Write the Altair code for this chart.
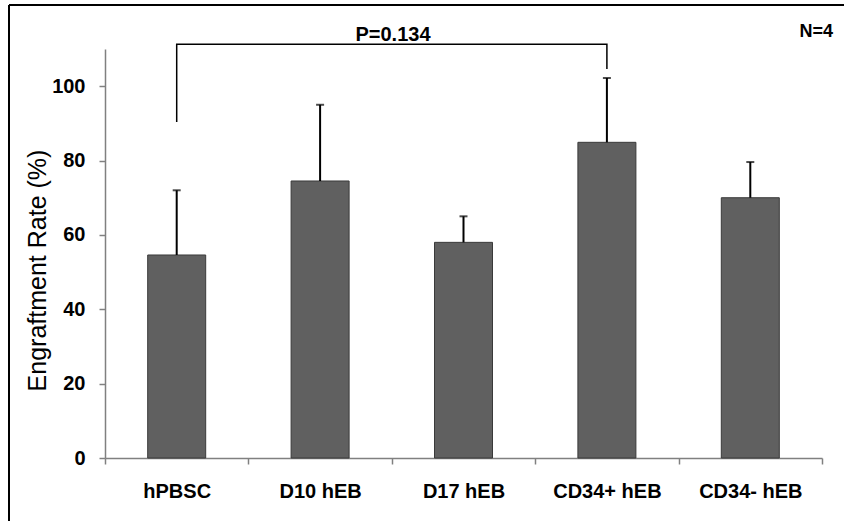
import altair as alt
import pandas as pd

categories = ["hPBSC", "D10 hEB", "D17 hEB", "CD34+ hEB", "CD34- hEB"]
means = [54.6, 74.5, 58.0, 84.9, 70.0]
errors = [17.4, 20.5, 7.0, 17.3, 9.6]

bracket_x = ["hPBSC", "hPBSC", "CD34+ hEB", "CD34+ hEB"]
bracket_y = [90.4, 111.3, 111.3, 104.6]
bracket_order = [0, 1, 2, 3]

p_text = "P=0.134"
n_text = "N=4"
y_ticks = [0, 20, 40, 60, 80, 100]

FONT = "Liberation Sans, Arial, Helvetica, sans-serif"

df = pd.DataFrame({"cat": categories, "mean": means, "err": errors})
df["upper"] = df["mean"] + df["err"]
bdf = pd.DataFrame({"cat": bracket_x, "y": bracket_y, "o": bracket_order})

xscale = alt.Scale(domain=categories, paddingInner=0, paddingOuter=0)
yscale = alt.Scale(domain=[0, 110], nice=False)

x_enc = alt.X(
    "cat:N", scale=xscale, sort=categories, title=None,
    axis=alt.Axis(
        labelAngle=0, labelFont=FONT, labelFontSize=20, labelFontWeight="bold",
        labelColor="#000000", labelPadding=17, tickSize=6, tickBand="extent",
        domainColor="#808080", tickColor="#808080", domainWidth=1.5, tickWidth=1.5,
    ),
)
y_enc = alt.Y(
    "mean:Q", scale=yscale, title="Engraftment Rate (%)",
    axis=alt.Axis(
        values=y_ticks, grid=False, labelFont=FONT, labelFontSize=20,
        labelFontWeight="bold", labelColor="#000000", labelPadding=14, tickSize=6,
        domainColor="#808080", tickColor="#808080", domainWidth=1.5, tickWidth=1.5,
        titleFont=FONT, titleFontSize=25, titleFontWeight="normal",
        titleColor="#000000", titleY=221, titleX=-55,
    ),
)

base = alt.Chart(df)
bars = base.mark_bar(size=58, color="#606060", stroke="#3a3a3a", strokeWidth=1).encode(
    x=x_enc, y=y_enc
)
err_rule = base.mark_rule(color="#000000", strokeWidth=2).encode(
    x=alt.X("cat:N", scale=xscale, sort=categories),
    y=alt.Y("mean:Q", scale=yscale),
    y2="upper:Q",
)
err_cap = base.mark_tick(color="#000000", thickness=2, size=8).encode(
    x=alt.X("cat:N", scale=xscale, sort=categories),
    y=alt.Y("upper:Q", scale=yscale),
)
bracket = alt.Chart(bdf).mark_line(color="#000000", strokeWidth=1.5).encode(
    x=alt.X("cat:N", scale=xscale, sort=categories),
    y=alt.Y("y:Q", scale=yscale),
    order="o:Q",
)
ptxt = alt.Chart(pd.DataFrame({"t": [p_text]})).mark_text(
    font=FONT, fontSize=20, fontWeight="bold", color="#000000",
    align="center", baseline="alphabetic",
).encode(text="t:N", x=alt.value(288), y=alt.value(-8))
ntxt = alt.Chart(pd.DataFrame({"t": [n_text]})).mark_text(
    font=FONT, fontSize=18, fontWeight="bold", color="#000000",
    align="right", baseline="alphabetic",
).encode(text="t:N", x=alt.value(728), y=alt.value(-12))
frame_top = alt.Chart(pd.DataFrame({"a": [0]})).mark_rule(color="#000000", strokeWidth=2).encode(
    x=alt.value(-96), x2=alt.value(739), y=alt.value(-44)
)
frame_left = alt.Chart(pd.DataFrame({"a": [0]})).mark_rule(color="#000000", strokeWidth=2).encode(
    x=alt.value(-96), y=alt.value(-44), y2=alt.value(472)
)

chart = alt.layer(
    bars, err_rule, err_cap, bracket, ptxt, ntxt, frame_top, frame_left
).properties(
    width=717, height=409,
    autosize=alt.AutoSizeParams(type="none"),
    padding={"left": 105, "top": 49, "right": 22, "bottom": 63},
    background="#ffffff",
).configure_view(stroke=None)

chart.save("out.html", embed_options={"renderer": "svg", "actions": False})
